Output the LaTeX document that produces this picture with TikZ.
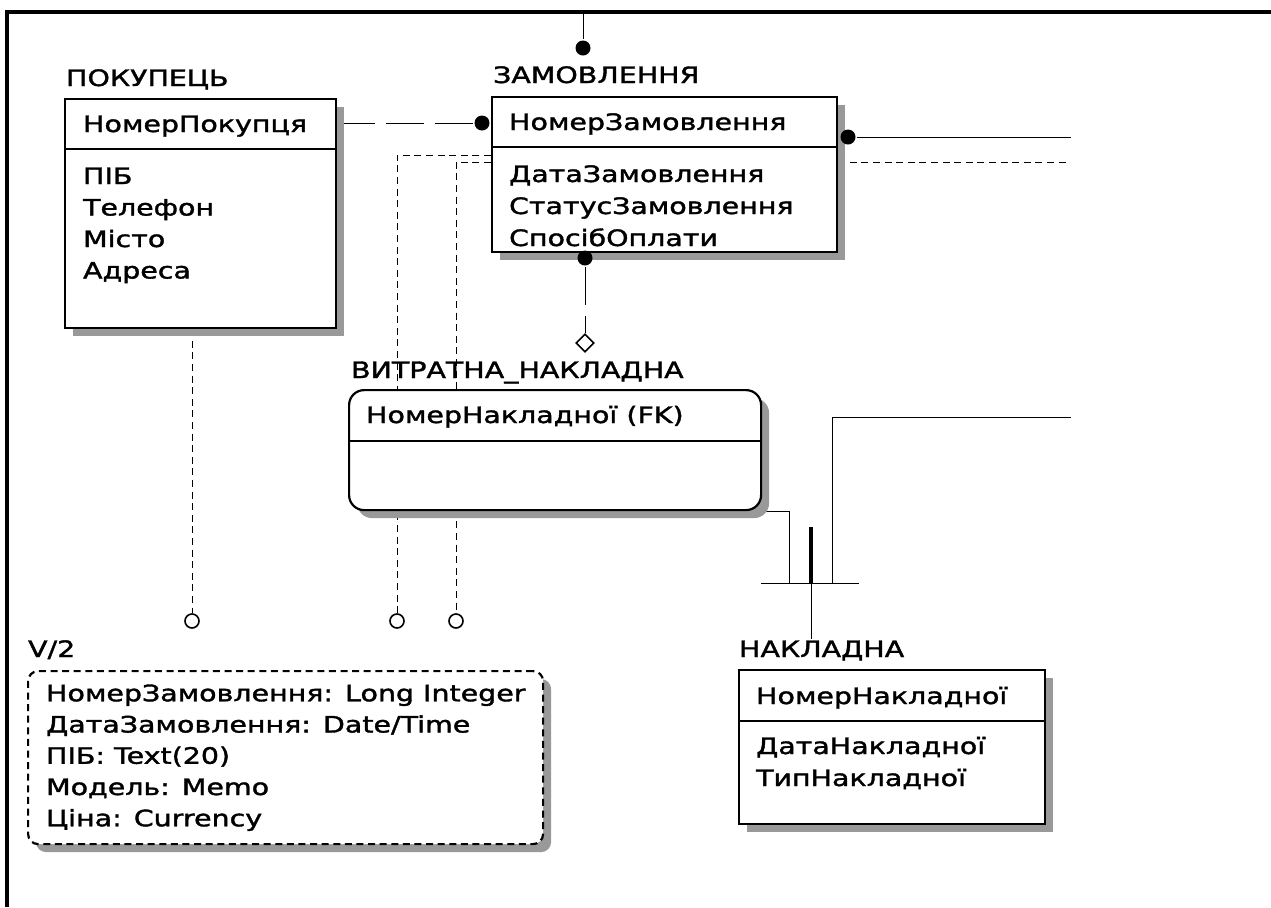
\documentclass[tikz,border=0pt]{standalone}
\usepackage{fontspec}
\setmainfont{DejaVu Sans}[FakeStretch=1.26,FakeBold=1.6]
\usetikzlibrary{shapes.geometric,shadows,calc,backgrounds}
\tikzset{
  ent/.style={draw,fill=white,line width=1.1pt,inner sep=0pt,anchor=north west,
    drop shadow={shadow xshift=4pt,shadow yshift=-4pt,opacity=1,fill=black!40}},
  sz/.style 2 args={minimum width=#1*0.5pt,minimum height=#2*0.5pt},
  txt/.style={anchor=base west,inner sep=0pt,font=\fontsize{11.3pt}{13pt}\selectfont},
  dot/.style={circle,fill,inner sep=0pt,minimum size=7.5pt},
  ring/.style={circle,draw,fill=white,inner sep=0pt,minimum size=7pt,line width=0.8pt},
  dia/.style={diamond,draw,fill=white,inner sep=0pt,minimum size=9pt,line width=0.8pt},
  fk/.style={dash pattern=on 3.5pt off 2.3pt},
  idf/.style={dash pattern=on 19pt off 5.5pt}
}
\begin{document}
\begin{tikzpicture}[x=0.5pt,y=-0.5pt,line width=1.1pt]
\useasboundingbox (0,0) rectangle (1271,907);
\draw[line width=1.6pt] (7,907) -- (7,12) -- (1271,12);

\node[ent,sz={271}{229}] (pok) at (64,98) {};
\draw (pok.west |- 0,149) -- (pok.east |- 0,149);
\node[txt] (pokt) at (65,86) {ПОКУПЕЦЬ};
\node[txt] (pokk) at (82,132) {НомерПокупця};
\foreach \t [count=\i] in {ПІБ,Телефон,Місто,Адреса}
  \node[txt] (poka\i) at (82,{152.5+31.5*\i}) {\t};

\node[ent,sz={345}{155}] (zam) at (491,96) {};
\draw (zam.west |- 0,147) -- (zam.east |- 0,147);
\node[txt] (zamt) at (492,83) {ЗАМОВЛЕННЯ};
\node[txt] (zamk) at (508,130) {НомерЗамовлення};
\foreach \t [count=\i] in {ДатаЗамовлення,СтатусЗамовлення,СпосібОплати}
  \node[txt] (zama\i) at (508,{150+32*\i}) {\t};

\node[ent,rounded corners=7.5pt,sz={412}{120}] (vyt) at (348,389) {};
\draw (vyt.west |- 0,441) -- (vyt.east |- 0,441);
\node[txt] (vytt) at (350,378) {ВИТРАТНА\_НАКЛАДНА};
\node[txt] (vytk) at (365,423) {НомерНакладної (FK)};

\node[ent,sz={306}{154}] (nak) at (738,669) {};
\draw (nak.west |- 0,721) -- (nak.east |- 0,721);
\node[txt] (nakt) at (738,657) {НАКЛАДНА};
\node[txt] (nakk) at (755,704) {НомерНакладної};
\foreach \t [count=\i] in {ДатаНакладної,ТипНакладної}
  \node[txt] (naka\i) at (755,{722+32*\i}) {\t};

\node[ent,fk,rounded corners=5pt,sz={515}{173}] (v2) at (27,670) {};
\node[txt] (v2t) at (27,657) {V/2};
\foreach \t [count=\i] in {{НомерЗамовлення: Long Integer},{ДатаЗамовлення: Date/Time},
    {ПІБ: Text(20)},{Модель: Memo},{Ціна: Currency}}
  \node[txt] (v2a\i) at (45,{670+31.25*\i}) {\t};

\node[dot] (d0) at (583,48) {};
\node[dot] (d1) at (482,123) {};
\node[dot] (d2) at (848,137) {};
\node[dot] (d3) at (585,258) {};
\node[dia] (dm) at (585,343) {};
\node[ring] (c1) at (192,621) {};
\node[ring] (c2) at (397,621) {};
\node[ring] (c3) at (456,621) {};
\coordinate (t0) at (583,12);
\coordinate (r1) at (1071,137);
\coordinate (r2) at (1068,162);
\coordinate (r3) at (1071,417);
\coordinate (cat) at (811,583);

\begin{scope}[on background layer]
\draw (t0) -- (d0);
\draw[idf] (pok.east |- d1) -- (d1);
\draw (d2) -- (r1);
\draw[fk] (zam.east |- r2) -- (r2);
\draw[idf] (d3) -- (dm);
\draw[fk] (pok.south -| c1) -- (c1);
\draw[fk] (zam.west |- 0,155) -| (c2);
\draw[fk] (zam.west |- 0,162) -| (c3);
\draw (vyt.south east) -| ($(cat)+(-22,0)$);
\draw ($(cat)+(-50,0)$) -- ($(cat)+(48,0)$);
\draw[line width=1.7pt] ($(cat)+(0,-56)$) -- (cat);
\draw (cat) -- (cat |- nakt.north);
\draw ($(cat)+(21,0)$) |- (r3);
\end{scope}
\end{tikzpicture}
\end{document}
